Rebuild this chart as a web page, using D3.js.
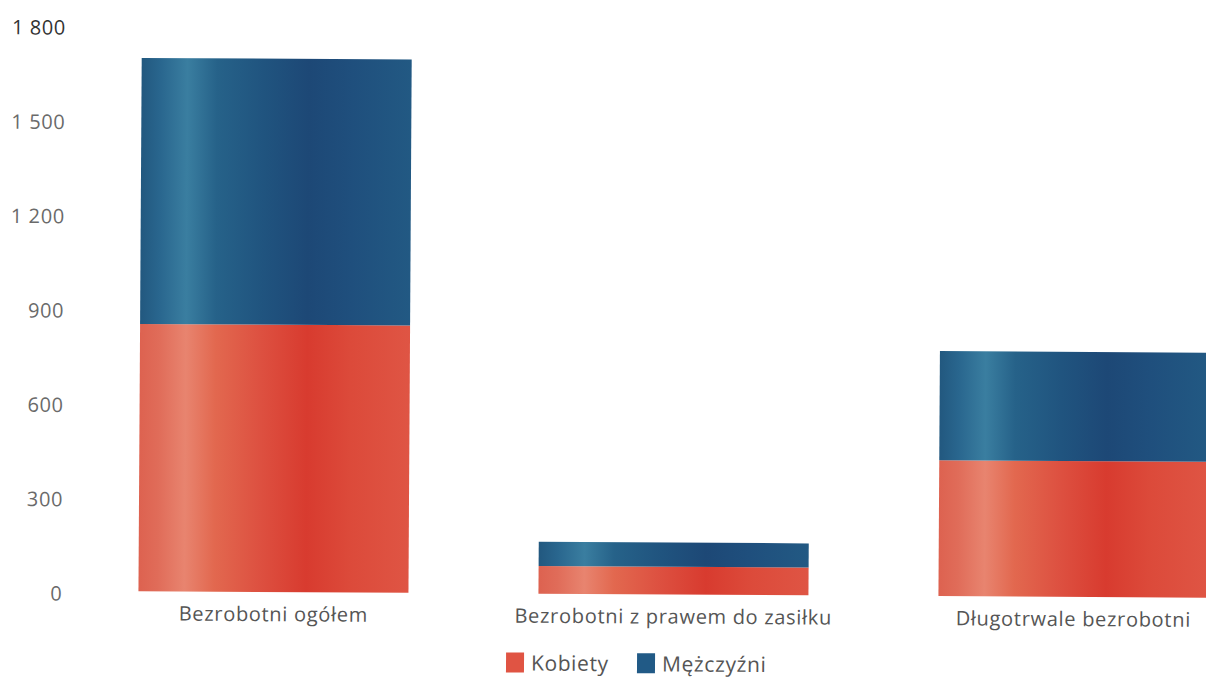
<!DOCTYPE html>
<html>
<head>
<meta charset="utf-8">
<script src="https://cdn.jsdelivr.net/npm/d3@7"></script>
<style>
  html, body { margin: 0; padding: 0; background: #ffffff; }
  svg { display: block; }
  text { font-family: "Open Sans", "Noto Sans", sans-serif; }
</style>
</head>
<body>
<svg id="chart" width="1206" height="678"></svg>
<script>
// ---- data ----
const categories = ["Bezrobotni ogółem", "Bezrobotni z prawem do zasiłku", "Długotrwale bezrobotni"];
const seriesNames = ["Kobiety", "Mężczyźni"];
const kobiety = [850, 88, 432];
const mezczyzni = [846, 77, 347];
const tickValues = [0, 300, 600, 900, 1200, 1500, 1800];

// ---- setup ----
const svg = d3.select("#chart");
const root = svg.append("g").attr("transform", "rotate(0.35, 600, 339)");

const x = d3.scaleBand().domain(categories).range([75, 1275])
  .paddingInner(0.325).paddingOuter(0.1625);
const y = d3.scaleLinear().domain([0, 1800]).range([594, 28]);

const fmt = d3.formatLocale({decimal: ",", thousands: " ", grouping: [3], currency: ["", " zł"]}).format(",d");

// gradients
const defs = svg.append("defs");
function grad(id, stops) {
  const g = defs.append("linearGradient").attr("id", id)
    .attr("x1", "0%").attr("x2", "100%").attr("y1", "0%").attr("y2", "0%");
  stops.forEach(([o, c]) => g.append("stop").attr("offset", o).attr("stop-color", c));
}
grad("gRed", [["0%", "#dd6250"], ["7%", "#e06c59"], ["17%", "#e8846f"], ["28%", "#e2684f"], ["45%", "#dd5040"], ["62%", "#d83b2f"], ["78%", "#dc4a3a"], ["100%", "#df5544"]]);
grad("gBlue", [["0%", "#22587f"], ["7%", "#29668e"], ["17%", "#3a7ea0"], ["28%", "#266289"], ["45%", "#20547f"], ["62%", "#1d4876"], ["78%", "#1f4f7d"], ["100%", "#225983"]]);
const fills = ["url(#gRed)", "url(#gBlue)"];
const legendColors = ["#e05443", "#215a86"];

// stacked data
const rows = categories.map((c, i) => ({cat: c, Kobiety: kobiety[i], "Mężczyźni": mezczyzni[i]}));
const stacked = d3.stack().keys(seriesNames)(rows);

root.append("g").selectAll("g").data(stacked).join("g")
  .attr("fill", (d, i) => fills[i])
  .selectAll("rect").data(d => d).join("rect")
  .attr("x", d => x(d.data.cat))
  .attr("width", x.bandwidth())
  .attr("y", d => y(d[1]))
  .attr("height", d => y(d[0]) - y(d[1]));

// y axis
const yAxis = d3.axisLeft(y).tickValues(tickValues).tickFormat(fmt).tickSize(0).tickPadding(0);
const yg = root.append("g").attr("transform", "translate(64,3)").call(yAxis);
yg.select(".domain").remove();
yg.selectAll("text").attr("font-size", 20).attr("letter-spacing", 0.6)
  .attr("fill", d => d === 1800 ? "#333" : "#6a6a6a");

// x axis labels
const xAxis = d3.axisBottom(x).tickSize(0).tickPadding(15);
const xg = root.append("g").attr("transform", `translate(0,${y(0)})`).call(xAxis);
xg.select(".domain").remove();
xg.selectAll("text").attr("font-size", 20).attr("letter-spacing", 0.7).attr("fill", "#555");

// legend
const legend = root.append("g").attr("transform", "translate(508,653)");
const items = legend.selectAll("g").data(seriesNames).join("g")
  .attr("transform", (d, i) => `translate(${i * 131},0)`);
items.append("rect").attr("width", 18).attr("height", 20).attr("fill", (d, i) => legendColors[i]);
items.append("text").attr("x", 25).attr("y", 18).attr("font-size", 21).attr("letter-spacing", 0.6)
  .attr("fill", "#555").text(d => d);
</script>
</body>
</html>
